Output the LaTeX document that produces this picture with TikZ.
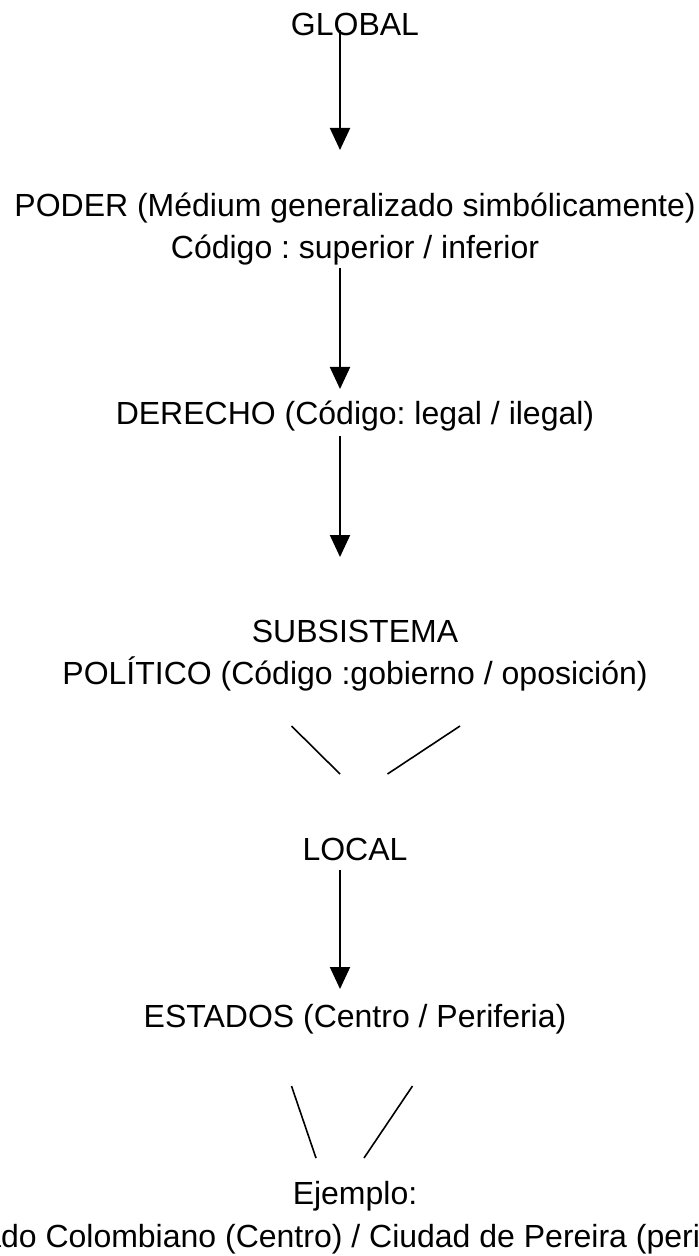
\documentclass[tikz,border=0pt]{standalone}
\usepackage{fontspec}
\setmainfont{Liberation Sans}
\usetikzlibrary{arrows.meta}
\frenchspacing
\begin{document}
\begin{tikzpicture}[x=0.5pt,y=-0.5pt,
  lbl/.style={inner sep=0pt, anchor=base, font=\fontsize{16}{19}\selectfont},
  arr/.style={line width=1pt, -{Triangle[width=10pt,length=11pt]}},
  ln/.style={line width=0.8pt}]
\useasboundingbox (0,0) rectangle (699,1256);
\fill[white] (0,0) rectangle (699,1256);
\node[lbl] (global) at (355,36) {GLOBAL};
\node[lbl] (poder) at (355,217) {PODER (Médium generalizado simbólicamente)};
\node[lbl] (codigo) at (355,259) {Código : superior / inferior};
\node[lbl] (derecho) at (355,424) {DERECHO (Código: legal / ilegal)};
\node[lbl] (subsis) at (355,642) {SUBSISTEMA};
\node[lbl] (politico) at (355,684) {POLÍTICO (Código :gobierno / oposición)};
\node[lbl] (local) at (355,860) {LOCAL};
\node[lbl] (estados) at (355,1027) {ESTADOS (Centro / Periferia)};
\node[lbl] (ejemplo) at (355,1204) {Ejemplo:};
\begin{scope}
\clip (0,0) rectangle (699,1256);
\node[lbl] (ejlinea) at (355,1247) {Estado Colombiano (Centro) / Ciudad de Pereira (periferia)};
\end{scope}
% arrows
\coordinate (a1s) at (340,30);  \coordinate (a1e) at (340,150);
\coordinate (a2s) at (340,268); \coordinate (a2e) at (340,389);
\coordinate (a3s) at (340,436); \coordinate (a3e) at (340,557);
\coordinate (a4s) at (340,870); \coordinate (a4e) at (340,989);
\draw[arr] (a1s) -- (a1e);
\draw[arr] (a2s) -- (a2e);
\draw[arr] (a3s) -- (a3e);
\draw[arr] (a4s) -- (a4e);
% V lines
\coordinate (v1a) at (291.5,726); \coordinate (v1b) at (340,774);
\coordinate (v1c) at (460,726);   \coordinate (v1d) at (387.5,774);
\draw[ln] (v1a) -- (v1b);
\draw[ln] (v1c) -- (v1d);
\coordinate (v2a) at (291.5,1086); \coordinate (v2b) at (316,1158);
\coordinate (v2c) at (412.5,1086); \coordinate (v2d) at (364,1158);
\draw[ln] (v2a) -- (v2b);
\draw[ln] (v2c) -- (v2d);
\end{tikzpicture}
\end{document}
